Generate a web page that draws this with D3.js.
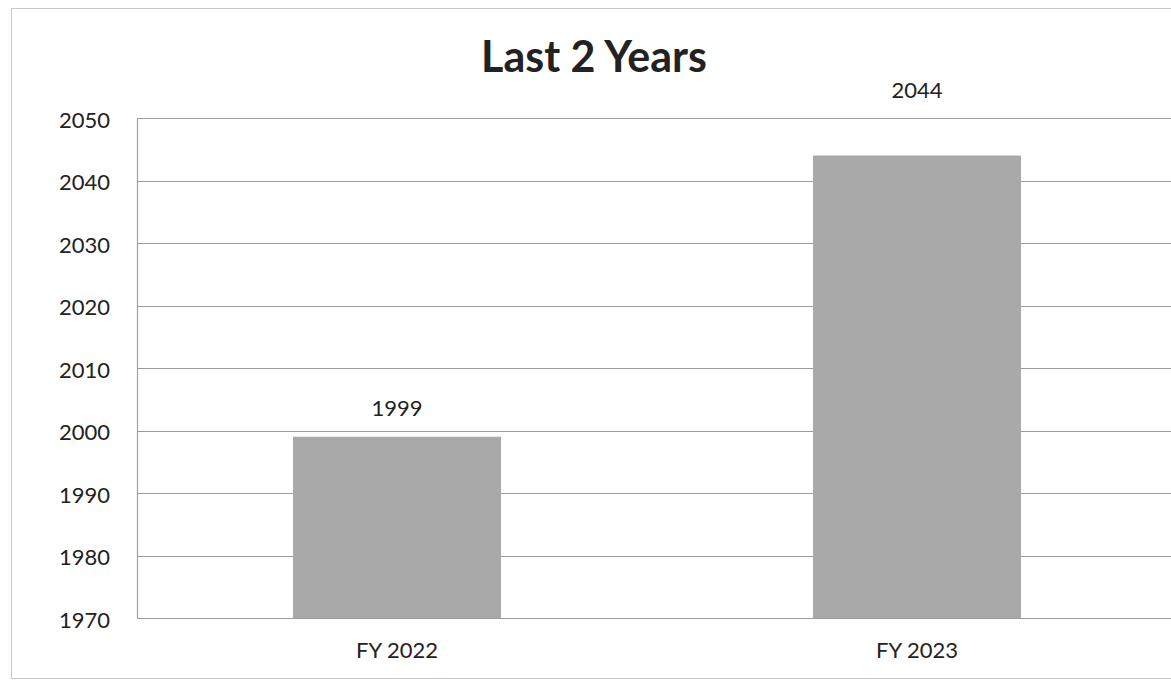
<!DOCTYPE html>
<html>
<head>
<meta charset="utf-8">
<script src="https://cdn.jsdelivr.net/npm/d3@7"></script>
<style>
html,body{margin:0;padding:0;background:#fff;}
svg{display:block;}
</style>
</head>
<body>
<svg id="chart" width="1171" height="683"></svg>
<script>
const title = "Last 2 Years";
const categories = ["FY 2022", "FY 2023"];
const values = [1999, 2044];
const yTicks = [1970, 1980, 1990, 2000, 2010, 2020, 2030, 2040, 2050];

const W = 1171, H = 683;
const svg = d3.select("#chart");
const font = "Lato, 'Open Sans', sans-serif";
const textColor = "#222";

// outer frame
svg.append("rect")
  .attr("x", 11.5).attr("y", 8.5)
  .attr("width", W + 10).attr("height", 670)
  .attr("fill", "#fff").attr("stroke", "#c8c8c8").attr("stroke-width", 1);

const plot = {left: 137, right: 1177, top: 118, bottom: 618};

const y = d3.scaleLinear().domain([1970, 2050]).range([plot.bottom, plot.top]);
const x = d3.scaleBand().domain(categories).range([plot.left, plot.right])
  .paddingInner(0.6).paddingOuter(0.3);

// gridlines
svg.append("g").selectAll("line").data(yTicks).join("line")
  .attr("x1", plot.left).attr("x2", W)
  .attr("y1", d => Math.round(y(d)) + 0.5).attr("y2", d => Math.round(y(d)) + 0.5)
  .attr("stroke", "#9c9c9c").attr("stroke-width", 1.2);

// left axis line
svg.append("line")
  .attr("x1", plot.left + 0.5).attr("x2", plot.left + 0.5)
  .attr("y1", plot.top).attr("y2", plot.bottom)
  .attr("stroke", "#a0a0a0").attr("stroke-width", 1.2);

// y tick labels
const yAxis = d3.axisLeft(y).tickValues(yTicks).tickSize(0).tickPadding(27).tickFormat(d3.format("d"));
const gy = svg.append("g").attr("transform", `translate(${plot.left},2)`).call(yAxis);
gy.select(".domain").remove();
gy.selectAll("text").attr("font-family", font).attr("font-size", 22).attr("fill", textColor);

// bars
svg.append("g").selectAll("rect").data(values).join("rect")
  .attr("x", (d, i) => x(categories[i]))
  .attr("width", x.bandwidth())
  .attr("y", d => y(d))
  .attr("height", d => y(1970) - y(d))
  .attr("fill", "#a9a9a9");

// data labels (labels of bars close to the top sit above the plot area)
svg.append("g").selectAll("text").data(values).join("text")
  .attr("x", (d, i) => x(categories[i]) + x.bandwidth() / 2)
  .attr("y", d => (y(d) - plot.top < 60) ? plot.top - 20 : y(d) - 21)
  .attr("text-anchor", "middle")
  .attr("font-family", font).attr("font-size", 22).attr("fill", textColor)
  .text(d => d);

// x axis labels
const xAxis = d3.axisBottom(x).tickSize(0).tickPadding(24);
const gx = svg.append("g").attr("transform", `translate(0,${plot.bottom})`).call(xAxis);
gx.select(".domain").remove();
gx.selectAll("text").attr("font-family", font).attr("font-size", 22).attr("fill", textColor);

// title
svg.append("text")
  .attr("x", 594).attr("y", 72)
  .attr("text-anchor", "middle")
  .attr("font-family", font).attr("font-weight", "bold").attr("font-size", 43)
  .attr("fill", textColor)
  .text(title);
</script>
</body>
</html>
